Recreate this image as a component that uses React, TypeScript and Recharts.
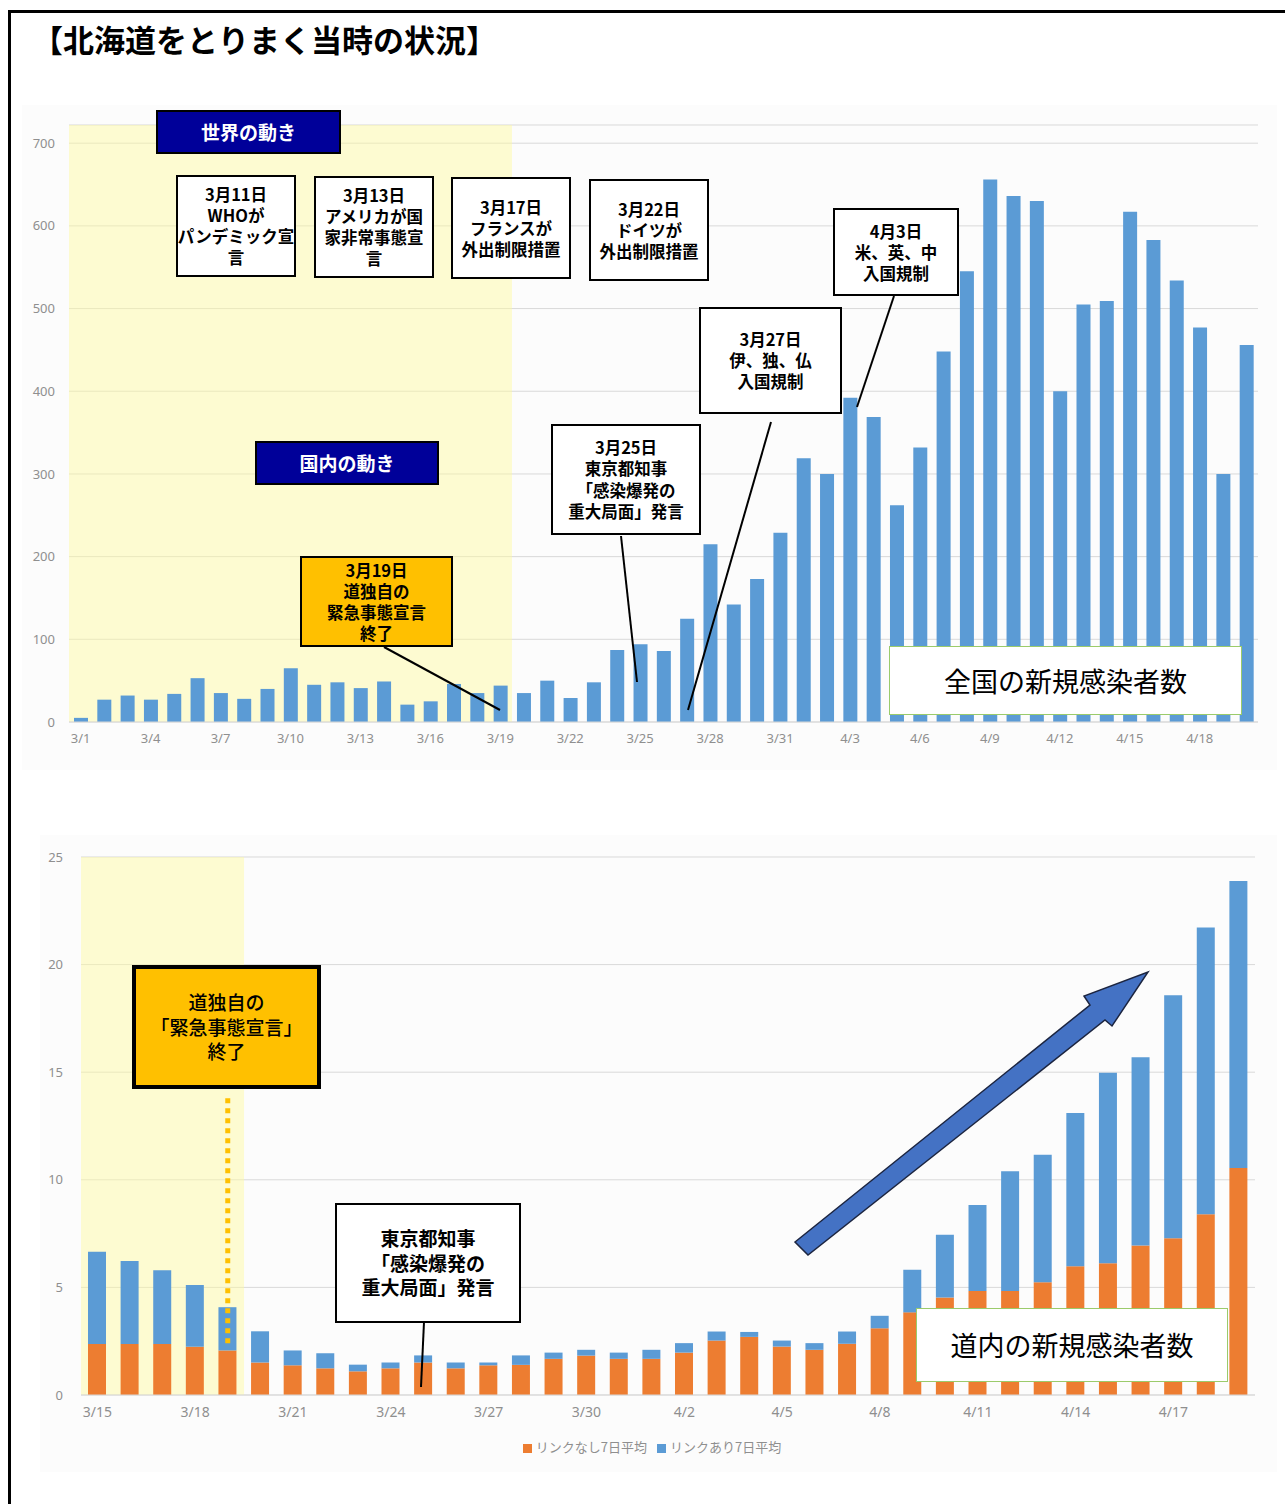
import React from "react";
import {
  BarChart,
  Bar,
  XAxis,
  YAxis,
  CartesianGrid,
  ReferenceArea,
  ReferenceLine,
  Legend,
} from "recharts";

// 全国の新規感染者数 (3/1 - 4/20)
const nationalDates = [
  "3/1", "3/2", "3/3", "3/4", "3/5", "3/6", "3/7", "3/8", "3/9", "3/10",
  "3/11", "3/12", "3/13", "3/14", "3/15", "3/16", "3/17", "3/18", "3/19", "3/20",
  "3/21", "3/22", "3/23", "3/24", "3/25", "3/26", "3/27", "3/28", "3/29", "3/30",
  "3/31", "4/1", "4/2", "4/3", "4/4", "4/5", "4/6", "4/7", "4/8", "4/9",
  "4/10", "4/11", "4/12", "4/13", "4/14", "4/15", "4/16", "4/17", "4/18", "4/19",
  "4/20",
];
const nationalCases = [
  5, 27, 32, 27, 34, 53, 35, 28, 40, 65,
  45, 48, 41, 49, 21, 25, 46, 35, 44, 35,
  50, 29, 48, 87, 94, 86, 125, 215, 142, 173,
  229, 319, 300, 392, 369, 262, 332, 448, 545, 656,
  636, 630, 400, 505, 509, 617, 583, 534, 477, 300,
  456,
];
const nationalTicks = [0, 100, 200, 300, 400, 500, 600, 700];

// 道内の新規感染者数 7日平均 (3/15 - 4/19)
const hokkaidoDates = [
  "3/15", "3/16", "3/17", "3/18", "3/19", "3/20", "3/21", "3/22", "3/23", "3/24",
  "3/25", "3/26", "3/27", "3/28", "3/29", "3/30", "3/31", "4/1", "4/2", "4/3",
  "4/4", "4/5", "4/6", "4/7", "4/8", "4/9", "4/10", "4/11", "4/12", "4/13",
  "4/14", "4/15", "4/16", "4/17", "4/18", "4/19",
];
const noLinkAvg = [
  2.37, 2.37, 2.37, 2.24, 2.07, 1.51, 1.38, 1.24, 1.1, 1.24,
  1.51, 1.24, 1.38, 1.4, 1.68, 1.83, 1.68, 1.68, 1.97, 2.53,
  2.7, 2.25, 2.1, 2.38, 3.1, 3.84, 4.53, 4.83, 4.83, 5.24,
  5.98, 6.12, 6.95, 7.28, 8.4, 10.55,
];
const linkAvg = [
  4.29, 3.86, 3.43, 2.87, 2.01, 1.45, 0.69, 0.7, 0.31, 0.27,
  0.33, 0.27, 0.13, 0.44, 0.29, 0.27, 0.29, 0.42, 0.44, 0.42,
  0.23, 0.28, 0.31, 0.57, 0.58, 1.98, 2.92, 4.0, 5.57, 5.92,
  7.12, 8.85, 8.74, 11.29, 13.32, 13.33,
];
const hokkaidoTicks = [0, 5, 10, 15, 20, 25];

const nationalData = nationalDates.map((d, i) => ({ date: d, cases: nationalCases[i] }));
const hokkaidoData = hokkaidoDates.map((d, i) => ({
  date: d,
  noLink: noLinkAvg[i],
  link: linkAvg[i],
}));

const FONT = '"Noto Sans CJK JP", "Noto Sans", sans-serif';
const BLUE = "#5B9BD5";
const ORANGE = "#ED7D31";
const GRID = "#D9D9D9";
const TICK = { fill: "#8f8f8f", fontSize: 13, fontFamily: '"Noto Sans", sans-serif' };
const legendOrder = ["noLink", "link"];

type BoxProps = {
  left: number;
  top: number;
  width: number;
  height: number;
  lines: string[];
  bg?: string;
  border?: string;
  color?: string;
  size?: number;
  weight?: number;
  lh?: number;
};

function Box({
  left, top, width, height, lines,
  bg = "#fff", border = "2px solid #000", color = "#000",
  size = 16, weight = 700, lh = 21,
}: BoxProps) {
  return (
    <div
      style={{
        position: "absolute",
        left, top, width, height,
        boxSizing: "border-box",
        background: bg,
        border,
        color,
        fontFamily: FONT,
        fontSize: size,
        fontWeight: weight,
        lineHeight: `${lh}px`,
        display: "flex",
        flexDirection: "column",
        alignItems: "center",
        justifyContent: "center",
        textAlign: "center",
        whiteSpace: "nowrap",
        overflow: "visible",
      }}
    >
      {lines.map((l) => (
        <div key={l}>{l}</div>
      ))}
    </div>
  );
}

export default function App() {
  return (
    <div
      style={{
        position: "absolute",
        left: 0,
        top: 0,
        width: 1285,
        height: 1504,
        overflow: "hidden",
        background: "#fff",
        fontFamily: FONT,
      }}
    >
      {/* frame */}
      <div
        style={{
          position: "absolute",
          left: 8,
          top: 10,
          width: 1320,
          height: 1540,
          borderLeft: "3px solid #000",
          borderTop: "3px solid #000",
        }}
      />
      <div
        style={{
          position: "absolute",
          left: 32,
          top: 21,
          fontSize: 31,
          fontWeight: 700,
          lineHeight: "36px",
          whiteSpace: "nowrap",
        }}
      >
        【北海道をとりまく当時の状況】
      </div>

      {/* chart backgrounds */}
      <div style={{ position: "absolute", left: 22, top: 105, width: 1255, height: 665, background: "#fcfcfc" }} />
      <div style={{ position: "absolute", left: 40, top: 835, width: 1237, height: 637, background: "#fcfcfc" }} />

      {/* 全国 */}
      <div style={{ position: "absolute", left: 0, top: 100 }}>
        <BarChart
          width={1285}
          height={662}
          data={nationalData}
          margin={{ top: 25, right: 27, left: 19, bottom: 0 }}
        >
          <CartesianGrid vertical={false} stroke={GRID} />
          <ReferenceArea x1="3/1" x2="3/19" fill="#FFFB9E" fillOpacity={0.45} stroke="none" />
          <XAxis
            dataKey="date"
            interval={2}
            height={40}
            tick={TICK}
            tickLine={false}
            tickSize={0}
            tickMargin={12}
            axisLine={{ stroke: GRID }}
          />
          <YAxis
            width={50}
            domain={[0, 722]}
            ticks={nationalTicks}
            tick={TICK}
            tickLine={false}
            tickSize={0}
            tickMargin={14}
            axisLine={false}
          />
          <Bar dataKey="cases" fill={BLUE} barSize={14} isAnimationActive={false} />
        </BarChart>
      </div>

      {/* 道内 */}
      <div style={{ position: "absolute", left: 0, top: 830 }}>
        <BarChart
          width={1285}
          height={640}
          data={hokkaidoData}
          margin={{ top: 27, right: 30, left: 59, bottom: 13 }}
          barSize={18}
        >
          <CartesianGrid vertical={false} stroke={GRID} />
          <ReferenceArea x1="3/15" x2="3/19" fill="#FFFB9E" fillOpacity={0.45} stroke="none" />
          <XAxis
            dataKey="date"
            interval={2}
            height={42}
            tick={{ ...TICK, fontSize: 14 }}
            tickLine={false}
            tickSize={0}
            tickMargin={12}
            axisLine={{ stroke: GRID }}
          />
          <YAxis
            width={22}
            domain={[0, 25]}
            ticks={hokkaidoTicks}
            tick={TICK}
            tickLine={false}
            tickSize={0}
            tickMargin={18}
            axisLine={false}
          />
          <Legend
            verticalAlign="bottom"
            iconType="square"
            iconSize={9}
            itemSorter={(item: any) => legendOrder.indexOf(item.dataKey)}
            wrapperStyle={{ lineHeight: "20px", fontSize: 13 }}
            formatter={(value: string) => (
              <span style={{ color: "#8f8f8f", fontSize: 13, fontFamily: FONT }}>{value}</span>
            )}
          />
          <Bar dataKey="noLink" name="リンクなし7日平均" stackId="a" fill={ORANGE} isAnimationActive={false} />
          <Bar dataKey="link" name="リンクあり7日平均" stackId="a" fill={BLUE} isAnimationActive={false} />
          <ReferenceLine
            segment={[
              { x: "3/19", y: 2.4 },
              { x: "3/19", y: 13.8 },
            ]}
            stroke="#FFC000"
            strokeWidth={5}
            strokeDasharray="5 5"
          />
        </BarChart>
      </div>

      {/* leader lines and arrow */}
      <svg
        width={1285}
        height={1504}
        style={{ position: "absolute", left: 0, top: 0, pointerEvents: "none" }}
      >
        <g stroke="#000" strokeWidth={2}>
          <line x1={384} y1={647} x2={500} y2={710} />
          <line x1={621} y1={536} x2={637} y2={682} />
          <line x1={771} y1={422} x2={688} y2={710} />
          <line x1={894} y1={296} x2={857} y2={407} />
          <line x1={424} y1={1322} x2={421} y2={1387} />
        </g>
        <polygon
          points="795,1242 1090,1005 1084,996 1148,972 1112,1026 1105,1020 808,1255"
          fill="#4472C4"
          stroke="#1c2540"
          strokeWidth={1.5}
          strokeLinejoin="miter"
        />
      </svg>

      {/* top annotations */}
      <Box left={156} top={110} width={185} height={44} lines={["世界の動き"]} bg="#000099" color="#fff" size={19} lh={24} />
      <Box left={255} top={441} width={184} height={44} lines={["国内の動き"]} bg="#000099" color="#fff" size={19} lh={24} />
      <Box left={176} top={175} width={120} height={102} lines={["3月11日", "WHOが", "パンデミック宣", "言"]} size={16.5} />
      <Box left={314} top={176} width={120} height={102} lines={["3月13日", "アメリカが国", "家非常事態宣", "言"]} size={16.5} />
      <Box left={451} top={177} width={120} height={102} lines={["3月17日", "フランスが", "外出制限措置"]} size={16.5} />
      <Box left={589} top={179} width={120} height={102} lines={["3月22日", "ドイツが", "外出制限措置"]} size={16.5} />
      <Box left={833} top={208} width={126} height={88} lines={["4月3日", "米、英、中", "入国規制"]} size={16.5} />
      <Box left={699} top={307} width={143} height={107} lines={["3月27日", "伊、独、仏", "入国規制"]} size={16.5} />
      <Box left={551} top={424} width={150} height={111} lines={["3月25日", "東京都知事", "「感染爆発の", "重大局面」発言"]} size={16.5} lh={21.5} />
      <Box left={300} top={556} width={153} height={91} lines={["3月19日", "道独自の", "緊急事態宣言", "終了"]} bg="#FFC000" size={16.5} />
      <Box left={889} top={646} width={353} height={69} lines={["全国の新規感染者数"]} border="1.5px solid #9BCB6B" size={27} weight={400} lh={34} />

      {/* bottom annotations */}
      <Box left={132} top={965} width={189} height={124} lines={["道独自の", "「緊急事態宣言」", "終了"]} bg="#FFC000" border="4px solid #000" size={19} weight={500} lh={24.5} />
      <Box left={335} top={1203} width={186} height={120} lines={["東京都知事", "「感染爆発の", "重大局面」発言"]} size={19} lh={24.5} />
      <Box left={916} top={1308} width={312} height={74} lines={["道内の新規感染者数"]} border="1.5px solid #9BCB6B" size={27} weight={400} lh={34} />
    </div>
  );
}
